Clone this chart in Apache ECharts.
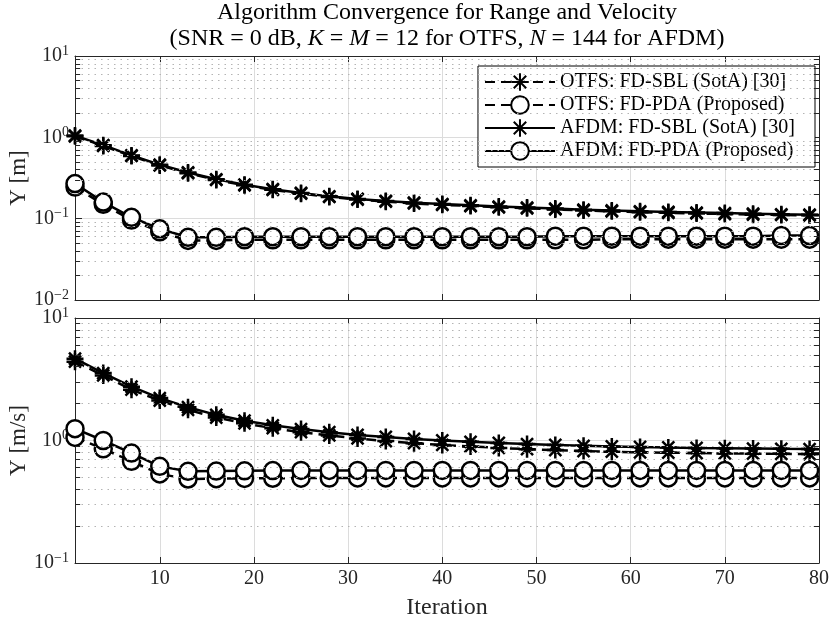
<!DOCTYPE html>
<html>
<head>
<meta charset="utf-8">
<script src="https://cdn.jsdelivr.net/npm/echarts@6/dist/echarts.min.js"></script>
<style>
html,body{margin:0;padding:0;background:#fff;}
#chart{width:830px;height:618px;}
</style>
</head>
<body>
<div id="chart"></div>
<script>
// ---------------- data ----------------
const iterations = [1,4,7,10,13,16,19,22,25,28,31,34,37,40,43,46,49,52,55,58,61,64,67,70,73,76,79,80];

const seriesNames = ['OTFS: FD-SBL (SotA) [30]','OTFS: FD-PDA (Proposed)','AFDM: FD-SBL (SotA) [30]','AFDM: FD-PDA (Proposed)'];

// Range error [m]
const otfsSblRange = [1.03,0.785,0.59,0.452,0.362,0.299,0.257,0.226,0.203,0.185,0.172,0.162,0.154,0.148,0.143,0.138,0.134,0.130,0.126,0.123,0.120,0.118,0.116,0.114,0.112,0.111,0.110,0.109];
const otfsPdaRange = [0.245,0.150,0.096,0.069,0.054,0.054,0.055,0.055,0.055,0.055,0.055,0.055,0.055,0.055,0.055,0.055,0.055,0.055,0.055,0.056,0.056,0.056,0.056,0.056,0.056,0.056,0.056,0.056];
const afdmSblRange = [1.05,0.80,0.60,0.46,0.37,0.305,0.262,0.230,0.207,0.188,0.175,0.165,0.157,0.151,0.146,0.141,0.137,0.133,0.129,0.126,0.123,0.121,0.119,0.117,0.115,0.113,0.112,0.111];
const afdmPdaRange = [0.270,0.160,0.104,0.075,0.059,0.059,0.060,0.060,0.060,0.060,0.060,0.060,0.060,0.060,0.060,0.060,0.060,0.061,0.061,0.061,0.061,0.061,0.061,0.061,0.061,0.062,0.062,0.062];

// Velocity error [m/s]
const otfsSblVel = [4.40,3.40,2.60,2.12,1.78,1.54,1.38,1.26,1.17,1.10,1.04,0.99,0.95,0.92,0.895,0.870,0.850,0.835,0.820,0.810,0.800,0.795,0.790,0.785,0.780,0.778,0.775,0.775];
const otfsPdaVel = [1.06,0.855,0.676,0.533,0.485,0.488,0.490,0.492,0.493,0.494,0.495,0.495,0.495,0.495,0.495,0.495,0.495,0.495,0.495,0.495,0.495,0.495,0.495,0.495,0.495,0.495,0.495,0.495];
const afdmSblVel = [4.65,3.55,2.75,2.22,1.87,1.62,1.45,1.33,1.24,1.17,1.11,1.07,1.03,1.00,0.975,0.955,0.935,0.920,0.905,0.895,0.885,0.878,0.870,0.865,0.860,0.855,0.852,0.850];
const afdmPdaVel = [1.25,1.00,0.79,0.615,0.560,0.563,0.566,0.568,0.570,0.570,0.570,0.570,0.570,0.570,0.570,0.570,0.570,0.570,0.570,0.570,0.570,0.570,0.570,0.570,0.570,0.570,0.570,0.570];

const xTickLabels = ['10','20','30','40','50','60','70','80'];
const topDecades = [-2,-1,0];   // 10^-2 .. 10^1
const botDecades = [-1,0];      // 10^-1 .. 10^1

// ---------------- styling ----------------
const FONT = 'Liberation Serif';
const AX = '#262626';
const STAR = 'path://M0,-10L0,10M-10,0L10,0M-7.07,-7.07L7.07,7.07M-7.07,7.07L7.07,-7.07';
const LW = 2.5;

function minorValues(decades){
  const out=[];
  decades.forEach(k=>{ for(let m=2;m<=9;m++){ out.push(+(m*Math.pow(10,k)).toPrecision(3)); } });
  return out;
}

function logLabel(v){
  const e = Math.round(Math.log10(v));
  return '{b|10}{s|' + (e<0 ? '\u2212'+(-e) : e) + '}';
}
const logRich = {
  b:{fontFamily:FONT,fontSize:20,color:AX,lineHeight:24},
  s:{fontFamily:FONT,fontSize:14,color:AX,verticalAlign:'top',lineHeight:14}
};

function buildSeries(gridIdx, dataArr){
  const styles = [
    {dash:[10,6], sym:STAR},
    {dash:[10,6], sym:'circle'},
    {dash:'solid', sym:STAR},
    {dash:'solid', sym:'circle'}
  ];
  return dataArr.map((arr,i)=>({
    name: seriesNames[i],
    type:'line',
    xAxisIndex: gridIdx*2,
    yAxisIndex: gridIdx*2,
    data: iterations.map((it,j)=>[it,arr[j]]),
    symbol: styles[i].sym,
    symbolSize: (v,p)=> p.dataIndex === iterations.length-1 ? 0 : 17,
    showAllSymbol:true,
    lineStyle:{color:'#000',width:LW,type:styles[i].dash},
    itemStyle: styles[i].sym==='circle'
      ? {color:'#fff',borderColor:'#000',borderWidth:LW}
      : {color:'rgba(0,0,0,0)',borderColor:'#000',borderWidth:LW},
    emphasis:{disabled:true},
    animation:false,
    z:3
  }));
}

function helperSeries(gridIdx, decades){
  const mv = minorValues(decades);
  const lines = mv.map(v=>({yAxis:v}));
  const ticks = [];
  mv.forEach(v=>{
    ticks.push([{coord:[1,v]},{coord:[1.55,v]}]);
    ticks.push([{coord:[80,v]},{coord:[79.45,v]}]);
  });
  return [{
    type:'line', xAxisIndex:gridIdx*2, yAxisIndex:gridIdx*2,
    data:[[1,mv[0]]], symbol:'none', lineStyle:{opacity:0}, silent:true, animation:false, z:1,
    markLine:{silent:true,symbol:'none',label:{show:false},animation:false,
      lineStyle:{color:'#b4b4b4',width:1,type:[1.5,5]},
      data:lines}
  },{
    type:'line', xAxisIndex:gridIdx*2, yAxisIndex:gridIdx*2,
    data:[[1,mv[0]]], symbol:'none', lineStyle:{opacity:0}, silent:true, animation:false, z:1,
    markLine:{silent:true,symbol:'none',label:{show:false},animation:false,
      lineStyle:{color:AX,width:1,type:'solid'},
      data:ticks}
  }];
}

function xAxes(gridIdx, showLabels){
  return [{
    gridIndex:gridIdx, type:'value', min:1, max:80, splitNumber:8,
    axisLine:{show:true,lineStyle:{color:AX,width:1}},
    axisTick:{show:true,inside:true,length:6,lineStyle:{color:AX}},
    axisLabel:{show:showLabels,showMinLabel:false,fontFamily:FONT,fontSize:20,color:AX,margin:6,
      formatter:v=> xTickLabels.indexOf(String(v))>=0 ? String(v) : ''},
    splitLine:{show:true,lineStyle:{color:'#dcdcdc',width:1}},
    name: showLabels ? 'Iteration' : '',
    nameLocation:'middle', nameGap:33, nameMoveOverlap:false,
    nameTextStyle:{fontFamily:FONT,fontSize:24,color:AX}
  },{
    gridIndex:gridIdx, type:'value', min:1, max:80, splitNumber:8, position:'top',
    axisLine:{show:true,lineStyle:{color:AX,width:1}},
    axisTick:{show:true,inside:true,length:6,lineStyle:{color:AX}},
    axisLabel:{show:false}, splitLine:{show:false}
  }];
}

function yAxes(gridIdx, min, max, name){
  return [{
    gridIndex:gridIdx, type:'log', logBase:10, min:min, max:max,
    axisLine:{show:true,lineStyle:{color:AX,width:1}},
    axisTick:{show:true,inside:true,length:7,lineStyle:{color:AX}},
    axisLabel:{fontFamily:FONT,fontSize:20,color:AX,margin:6,formatter:logLabel,rich:logRich},
    splitLine:{show:true,lineStyle:{color:'#dcdcdc',width:1}},
    minorTick:{show:false}, minorSplitLine:{show:false},
    name:name, nameLocation:'middle', nameGap:45, nameRotate:90, nameMoveOverlap:false,
    nameTextStyle:{fontFamily:FONT,fontSize:23,color:AX}
  },{
    gridIndex:gridIdx, type:'log', logBase:10, min:min, max:max, position:'right',
    axisLine:{show:true,lineStyle:{color:AX,width:1}},
    axisTick:{show:true,inside:true,length:7,lineStyle:{color:AX}},
    axisLabel:{show:false}, splitLine:{show:false}
  }];
}

const chart = echarts.init(document.getElementById('chart'), null, {renderer:'canvas'});
const titleRich = {
  t:{fontFamily:FONT,fontSize:24,color:'#000',lineHeight:26},
  i:{fontFamily:FONT,fontSize:24,fontStyle:'italic',color:'#000',lineHeight:26}
};
const option = {
  backgroundColor:'#fff',
  animation:false,
  title:{
    text:'{t|Algorithm Convergence for Range and Velocity}\n{t|(SNR = 0 dB, }{i|K}{t| = }{i|M}{t| = 12 for OTFS, }{i|N}{t| = 144 for AFDM)}',
    left:447, top:0, textAlign:'center', padding:0,
    textStyle:{fontFamily:FONT,fontSize:24,fontWeight:'normal',color:'#000',lineHeight:26,rich:titleRich}
  },
  legend:{
    data:seriesNames,
    right:15, top:66, orient:'vertical',
    itemWidth:70, itemHeight:22, itemGap:3,
    backgroundColor:'#fff', borderColor:'#000', borderWidth:1, borderRadius:0,
    padding:[6,20,6,6],
    textStyle:{fontFamily:FONT,fontSize:20,color:'#000'},
    selectedMode:false
  },
  grid:[
    {left:75, right:11, top:56, height:244, outerBoundsMode:'none', containLabel:false},
    {left:75, right:11, top:318, height:245, outerBoundsMode:'none', containLabel:false}
  ],
  xAxis:[...xAxes(0,false), ...xAxes(1,true)],
  yAxis:[...yAxes(0,0.01,10,'\u03A5 [m]'), ...yAxes(1,0.1,10,'\u03A5 [m/s]')],
  series:[
    ...helperSeries(0, topDecades),
    ...helperSeries(1, botDecades),
    ...buildSeries(0,[otfsSblRange,otfsPdaRange,afdmSblRange,afdmPdaRange]),
    ...buildSeries(1,[otfsSblVel,otfsPdaVel,afdmSblVel,afdmPdaVel])
  ]
};
chart.setOption(option);
</script>
</body>
</html>
